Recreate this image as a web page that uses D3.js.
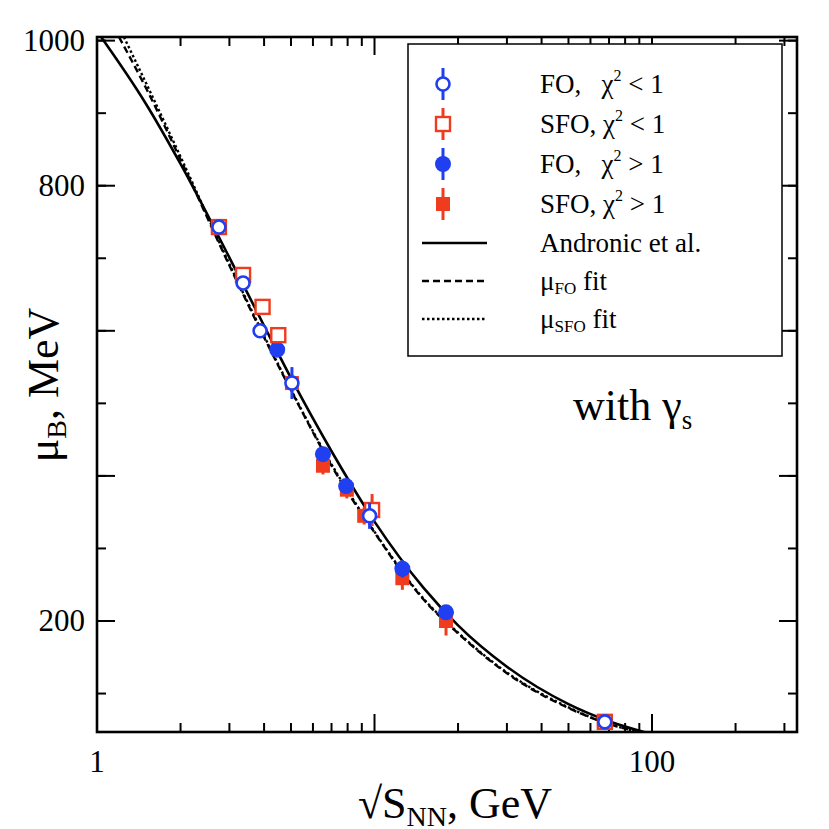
<!DOCTYPE html>
<html><head><meta charset="utf-8">
<script src="https://cdn.jsdelivr.net/npm/d3@7"></script>
<style>body{margin:0;background:#fff}svg text{font-family:"Liberation Serif","Times New Roman",serif}</style>
</head><body><svg id="c" width="829" height="829"></svg>
<script>
// data points: [sqrt(s), muB, err]
const foOpen = [[2.75,743,8],[3.36,666,8],[3.87,600,8],[5.04,528,22],[9.6,345,18],[67.6,61,5]]
const sfoOpen = [[2.75,743,8],[3.36,677,8],[3.95,633,8],[4.5,594,10],[9.8,353,22],[67.6,61,5]]
const foFull = [[4.46,574,10],[6.52,430,10],[7.9,386,10],[12.6,272,12],[18.1,212,10]]
const sfoFull = [[5.04,528,12],[6.52,414,12],[7.95,381,12],[9.18,345,12],[12.6,259,16],[18.1,200,20]]
const andronicX = [1,1.5,2,3,4,5,7,10,15,20,30,50,70,100]
const andronicY = [1013,913,830,701,607,535,434,337,246,194,137,85.5,61.9,44]
const foFitX = [1.2,1.5,2,3,4,5,7,10,15,20,30,50,70,90]
const foFitY = [1005,935,836,690,591,518,414,322,230,183,128,80,58,47]
const sfoFitX = [1.25,1.5,2,3,4,5,7,10,15,20,30,50,70,90]
const sfoFitY = [1005,942,840,692,593,519,416,323,231,184,129,81,58,47]
const yTicks = [200,400,600,800,1000]
const yLabels = ["200","","","800","1000"]

const svg = d3.select("#c")
const L=97,R=797,T=37,B=732
const x = d3.scaleLog().domain([1,333]).range([L,R])
const y = d3.scaleLinear().domain([47,1005]).range([B,T])
const blue="#1f3ff0", red="#f03c1e"
const FF = "Liberation Serif, Times New Roman, serif"

// ticks
const minor = []
for (let d of [1,10,100]) for (let k=2;k<=9;k++) if (d*k<333) minor.push(d*k)
function xt(v,len){
  svg.append("line").attr("x1",x(v)).attr("x2",x(v)).attr("y1",B).attr("y2",B-len).attr("stroke","#000").attr("stroke-width",2)
  svg.append("line").attr("x1",x(v)).attr("x2",x(v)).attr("y1",T).attr("y2",T+len).attr("stroke","#000").attr("stroke-width",2)
}
minor.forEach(v=>xt(v,9)); [1,10,100].forEach(v=>xt(v,18))
const yMinor = d3.range(100,1001,100)
function yt(v,len){
  svg.append("line").attr("x1",L).attr("x2",L+len).attr("y1",y(v)).attr("y2",y(v)).attr("stroke","#000").attr("stroke-width",2)
  svg.append("line").attr("x1",R).attr("x2",R-len).attr("y1",y(v)).attr("y2",y(v)).attr("stroke","#000").attr("stroke-width",2)
}
yMinor.forEach(v=>yt(v,9)); yTicks.forEach(v=>yt(v,18))
yTicks.forEach((v,i)=>svg.append("text").attr("font-family",FF).attr("x",L-12).attr("y",y(v)+10).attr("text-anchor","end").attr("font-size",31).text(yLabels[i]))
;[[1,"1"],[100,"100"]].forEach(([v,s])=>svg.append("text").attr("font-family",FF).attr("x",x(v)).attr("y",B+40).attr("text-anchor","middle").attr("font-size",31).text(s))

// curves
const line = d3.line().x(d=>x(d[0])).y(d=>y(d[1])).curve(d3.curveMonotoneX)
svg.append("clipPath").attr("id","cp").append("rect").attr("x",L).attr("y",T).attr("width",R-L).attr("height",B-T)
const g = svg.append("g").attr("clip-path","url(#cp)")
g.append("path").attr("d",line(d3.zip(andronicX,andronicY))).attr("fill","none").attr("stroke","#000").attr("stroke-width",2.6)
g.append("path").attr("d",line(d3.zip(foFitX,foFitY))).attr("fill","none").attr("stroke","#000").attr("stroke-width",2.4).attr("stroke-dasharray","7,4")
g.append("path").attr("d",line(d3.zip(sfoFitX,sfoFitY))).attr("fill","none").attr("stroke","#000").attr("stroke-width",2.4).attr("stroke-dasharray","2.5,2.5")

// markers
function marker(gr,cx,cy,shape,fill,col,err){
  gr.append("line").attr("x1",cx).attr("x2",cx).attr("y1",cy-err).attr("y2",cy+err).attr("stroke",col).attr("stroke-width",3)
  if (shape=="c") gr.append("circle").attr("cx",cx).attr("cy",cy).attr("r",fill?8:6.5).attr("fill",fill?col:"#fff").attr("stroke",col).attr("stroke-width",fill?0:2.6)
  else gr.append("rect").attr("x",cx-7).attr("y",cy-7).attr("width",14).attr("height",14).attr("fill",fill?col:"#fff").attr("stroke",col).attr("stroke-width",fill?0:2.4)
}
const pg = svg.append("g").attr("clip-path","url(#cp)")
const sets=[[sfoFull,"s",true,red],[foFull,"c",true,blue],[sfoOpen,"s",false,red],[foOpen,"c",false,blue]]
sets.forEach(([data,sh,f,c])=>data.forEach(d=>{
  const cy=y(d[1]); marker(pg,x(d[0]),cy,sh,f,c,Math.abs(y(d[1]+d[2])-cy))
}))

// frame
svg.append("rect").attr("x",L).attr("y",T).attr("width",R-L).attr("height",B-T).attr("fill","none").attr("stroke","#000").attr("stroke-width",2.6)

// legend
svg.append("rect").attr("x",408).attr("y",44).attr("width",374).attr("height",312).attr("fill","#fff").attr("stroke","#000").attr("stroke-width",1.5)
const leg=svg.append("g")
const legItems=[["c",false,blue,"FO,   χ","< 1"],["s",false,red,"SFO, χ","< 1"],["c",true,blue,"FO,   χ","> 1"],["s",true,red,"SFO, χ","> 1"]]
legItems.forEach((it,i)=>{
  const cy=84+i*40
  marker(leg,443,cy,it[0],it[1],it[2],16)
  const t=leg.append("text").attr("font-family",FF).attr("x",540).attr("y",cy+9).attr("font-size",27).attr("xml:space","preserve")
  t.append("tspan").text(it[3])
  t.append("tspan").attr("font-size",16).attr("dy",-12).text("2")
  t.append("tspan").attr("dy",12).text(" "+it[4])
})
const lineItems=[[null,"Andronic et al."],["7,4","FO"],["2.5,2.5","SFO"]]
lineItems.forEach((it,i)=>{
  const cy=243+i*38
  leg.append("line").attr("x1",422).attr("x2",487).attr("y1",cy).attr("y2",cy).attr("stroke","#000").attr("stroke-width",2.6).attr("stroke-dasharray",it[0])
  const t=leg.append("text").attr("font-family",FF).attr("x",540).attr("y",cy+9).attr("font-size",27)
  if(i==0) t.text(it[1])
  else { t.append("tspan").text("μ"); t.append("tspan").attr("font-size",17).attr("dy",4).text(it[1]); t.append("tspan").attr("dy",-4).text(" fit") }
})

// annotation
const w=svg.append("text").attr("font-family",FF).attr("x",573).attr("y",420).attr("font-size",44)
w.append("tspan").text("with γ"); w.append("tspan").attr("font-size",27).attr("dy",9).text("s")

// axis titles
const xtit=svg.append("text").attr("font-family",FF).attr("x",455).attr("y",818).attr("text-anchor","middle").attr("font-size",44)
xtit.append("tspan").text("√S"); xtit.append("tspan").attr("font-size",28).attr("dy",8).text("NN"); xtit.append("tspan").attr("dy",-8).text(", GeV")
const ytit=svg.append("text").attr("font-family",FF).attr("transform","translate(58,385) rotate(-90)").attr("text-anchor","middle").attr("font-size",44)
ytit.append("tspan").text("μ"); ytit.append("tspan").attr("font-size",28).attr("dy",8).text("B"); ytit.append("tspan").attr("dy",-8).text(", MeV")
</script></body></html>
